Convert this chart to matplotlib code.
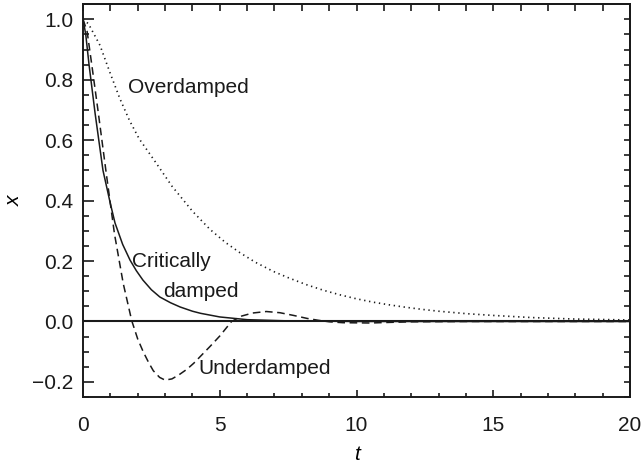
import numpy as np
import matplotlib.pyplot as plt
from matplotlib.ticker import MultipleLocator

plt.rcParams['font.family'] = ['Liberation Sans', 'DejaVu Sans']

# values
t_crit = [0, 0.1, 0.22, 0.44, 0.73, 1.0, 1.17, 1.45, 1.72, 1.95, 2.19, 2.5,
          2.81, 3.2, 3.55, 4.0, 4.3, 5.0, 6.0, 7.5, 10, 20]
x_crit = [1.0, 0.95, 0.85, 0.69, 0.50, 0.39, 0.326, 0.255, 0.203, 0.168, 0.137,
          0.105, 0.081, 0.062, 0.048, 0.034, 0.027, 0.015, 0.006, 0.002, 0.0, 0.0]

t_under = [0, 0.15, 0.32, 0.56, 0.85, 1.15, 1.47, 1.78, 2.0, 2.2, 2.4, 2.57,
           2.8, 3.0, 3.25, 3.5, 3.8, 4.05, 4.35, 4.65, 5.0, 5.43, 5.8, 6.2,
           6.7, 7.2, 7.7, 8.2, 8.6, 9.0, 9.5, 10.5, 11.2, 12, 14, 20]
x_under = [1.0, 0.96, 0.85, 0.69, 0.49, 0.29, 0.126, 0.003, -0.058, -0.1,
           -0.136, -0.163, -0.185, -0.194, -0.19, -0.177, -0.158, -0.138,
           -0.11, -0.082, -0.048, 0.0, 0.018, 0.028, 0.033, 0.029, 0.02,
           0.01, 0.004, -0.001, -0.004, -0.005, -0.003, -0.001, 0, 0]

t_over = [0, 0.2, 0.62, 1.0, 1.35, 1.7, 2.05, 2.63, 3.25, 4.0, 4.64, 5.2,
          5.73, 6.3, 6.95, 7.5, 8.16, 8.8, 9.4, 10.0, 10.6, 11.2, 11.8, 12.4,
          13.0, 14.0, 15.0, 16.4, 18.0, 20.0]
x_over = [1.0, 0.985, 0.914, 0.82, 0.737, 0.665, 0.605, 0.53, 0.448, 0.365,
          0.305, 0.262, 0.228, 0.196, 0.166, 0.145, 0.122, 0.103, 0.088,
          0.075, 0.064, 0.055, 0.047, 0.04, 0.034, 0.026, 0.02, 0.013,
          0.008, 0.005]

ink = '#1a1a1a'

fig = plt.figure(figsize=(6.41, 4.66), dpi=100)
ax = fig.add_axes([0.1295, 0.148, 0.8535, 0.843])

ax.axhline(0, color=ink, lw=1.5, zorder=1)
ax.plot(t_crit, x_crit, color=ink, lw=1.1)
ax.plot(t_under, x_under, color=ink, lw=1.1, linestyle=(0, (5, 3)))
ax.plot(t_over, x_over, color=ink, lw=1.2, linestyle=(0, (0.8, 2.2)))

ax.text(1.65, 0.775, 'Overdamped', fontsize=15, color=ink, va='center')
ax.text(1.8, 0.2, 'Critically', fontsize=15, color=ink, va='center')
ax.text(2.93, 0.1, 'damped', fontsize=15, color=ink, va='center')
ax.text(4.2, -0.155, 'Underdamped', fontsize=15, color=ink, va='center')

ax.set_xlim(0, 20)
ax.set_ylim(-0.25, 1.05)
ax.xaxis.set_major_locator(MultipleLocator(5))
ax.xaxis.set_minor_locator(MultipleLocator(1))
ax.yaxis.set_major_locator(MultipleLocator(0.2))
ax.yaxis.set_minor_locator(MultipleLocator(0.05))

ax.tick_params(axis='both', which='both', direction='in', colors=ink,
               labelsize=15, width=1.2)
ax.tick_params(axis='x', which='major', length=5, pad=14)
ax.tick_params(axis='x', which='minor', length=3)
ax.tick_params(axis='y', which='major', length=8, pad=7)
ax.tick_params(axis='y', which='minor', length=4.5)

top = ax.secondary_xaxis('top')
top.xaxis.set_major_locator(MultipleLocator(1))
top.tick_params(direction='in', length=5, width=1.2, labeltop=False, colors=ink)
right = ax.secondary_yaxis('right')
right.yaxis.set_major_locator(MultipleLocator(0.05))
right.tick_params(direction='in', length=4, width=1.2, labelright=False, colors=ink)

for a in (ax, top, right):
    for s in a.spines.values():
        s.set_linewidth(1.4)
        s.set_color(ink)

ax.set_xlabel('t', fontsize=15, style='italic', labelpad=7)
ax.set_ylabel('x', fontsize=15, style='italic', labelpad=6, rotation=90)

fig.savefig('out.png', dpi=100)
